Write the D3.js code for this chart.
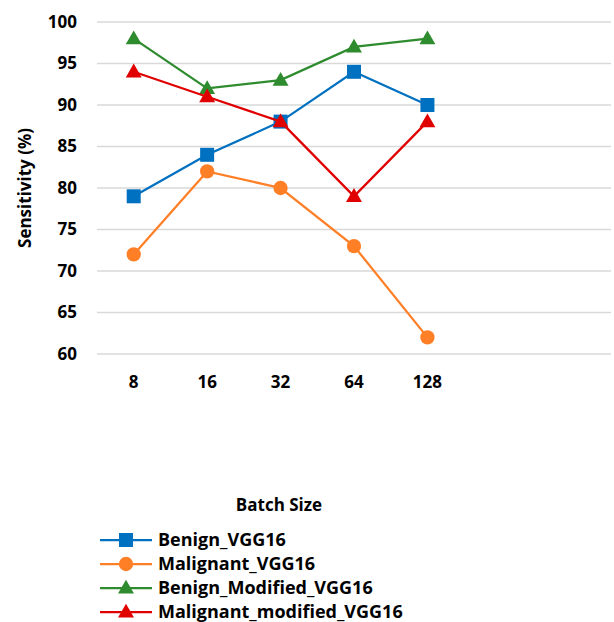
<!DOCTYPE html>
<html>
<head>
<meta charset="utf-8">
<script src="https://cdn.jsdelivr.net/npm/d3@7"></script>
<style>
  html, body { margin: 0; padding: 0; background: #fff; }
  svg text { font-family: "Open Sans", "Noto Sans", sans-serif; font-weight: 700; fill: #000; }
</style>
</head>
<body>
<svg id="chart" width="614" height="622"></svg>
<script>
// Batch sizes on the category axis (the axis reserves room for 7 slots)
const batchSizes = ["8", "16", "32", "64", "128"];
const axisSlots = ["8", "16", "32", "64", "128", "", " "];
const yTicks = [60, 65, 70, 75, 80, 85, 90, 95, 100];

// Sensitivity (%) per model and batch size
const benignVGG16 = [79, 84, 88, 94, 90];
const malignantVGG16 = [72, 82, 80, 73, 62];
const benignModifiedVGG16 = [98, 92, 93, 97, 98];
const malignantModifiedVGG16 = [94, 91, 88, 79, 88];

const seriesNames = ["Benign_VGG16", "Malignant_VGG16", "Benign_Modified_VGG16", "Malignant_modified_VGG16"];
const seriesColors = ["#0070c0", "#ff7f27", "#2e8b2e", "#e00000"];
const seriesShapes = [d3.symbolSquare, d3.symbolCircle, d3.symbolTriangle, d3.symbolTriangle];

const series = seriesNames.map((name, i) => ({
  name,
  color: seriesColors[i],
  shape: seriesShapes[i],
  values: [benignVGG16, malignantVGG16, benignModifiedVGG16, malignantModifiedVGG16][i]
}));

const svg = d3.select("#chart");
const plot = { left: 97, right: 611, top: 22, bottom: 354 };

const x = d3.scaleBand().domain(axisSlots).range([plot.left, plot.right]);
const xc = d => x(d) + x.bandwidth() / 2;
const y = d3.scaleLinear().domain([60, 100]).range([plot.bottom, plot.top]);

// Horizontal gridlines
svg.append("g")
  .selectAll("line")
  .data(yTicks)
  .join("line")
  .attr("x1", plot.left).attr("x2", plot.right)
  .attr("y1", d => y(d)).attr("y2", d => y(d))
  .attr("stroke", "#d9d9d9").attr("stroke-width", 1.5);

// Y tick labels
svg.append("g")
  .selectAll("text")
  .data(yTicks)
  .join("text")
  .attr("x", 77).attr("y", d => y(d))
  .attr("dy", "0.35em")
  .attr("text-anchor", "end")
  .attr("font-size", 17)
  .text(d => d);

// X tick labels
svg.append("g")
  .selectAll("text")
  .data(batchSizes)
  .join("text")
  .attr("x", d => xc(d)).attr("y", 388)
  .attr("text-anchor", "middle")
  .attr("font-size", 17)
  .text(d => d);

// Axis titles
svg.append("text")
  .attr("transform", "translate(31,188) rotate(-90)")
  .attr("text-anchor", "middle")
  .attr("font-size", 17)
  .text("Sensitivity (%)");

svg.append("text")
  .attr("x", 279).attr("y", 511)
  .attr("text-anchor", "middle")
  .attr("font-size", 17)
  .text("Batch Size");

const sym = s => d3.symbol().type(s).size(s === d3.symbolSquare ? 196 : s === d3.symbolCircle ? 160 : 110)();

const line = d3.line().x((d, i) => xc(batchSizes[i])).y(d => y(d));

series.forEach(s => {
  const g = svg.append("g");
  g.append("path")
    .attr("d", line(s.values))
    .attr("fill", "none")
    .attr("stroke", s.color)
    .attr("stroke-width", 2.25);
  g.selectAll("path.mark")
    .data(s.values)
    .join("path")
    .attr("class", "mark")
    .attr("transform", (d, i) => `translate(${xc(batchSizes[i])},${y(d) + (s.shape === d3.symbolTriangle ? 1 : 0)})`)
    .attr("d", sym(s.shape))
    .attr("fill", s.color);
});

// Legend
const legend = svg.append("g");
const rowY = [540, 564, 588, 612];
series.forEach((s, i) => {
  const row = legend.append("g").attr("transform", `translate(0,${rowY[i]})`);
  row.append("line")
    .attr("x1", 100).attr("x2", 152)
    .attr("stroke", s.color).attr("stroke-width", 2.25);
  row.append("path")
    .attr("transform", `translate(126,${s.shape === d3.symbolTriangle ? 1 : 0})`)
    .attr("d", sym(s.shape))
    .attr("fill", s.color);
  row.append("text")
    .attr("x", 158).attr("y", 0)
    .attr("dy", "0.35em")
    .attr("font-size", 18)
    .text(s.name);
});
</script>
</body>
</html>
